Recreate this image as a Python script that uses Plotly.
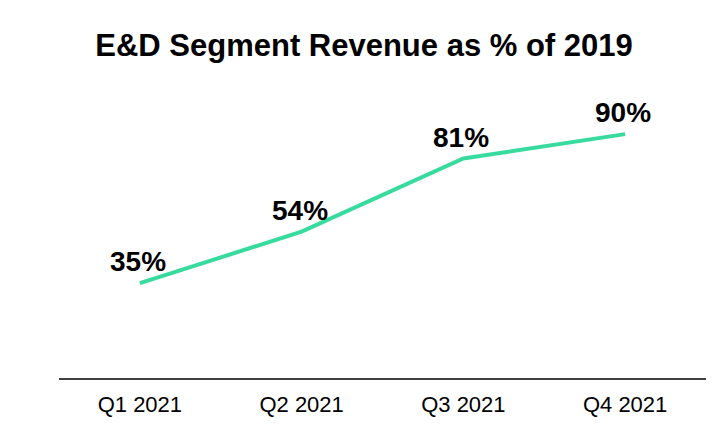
import plotly.graph_objects as go

quarters = ["Q1 2021", "Q2 2021", "Q3 2021", "Q4 2021"]
pct_of_2019 = [35, 54, 81, 90]
labels = [f"{v}%" for v in pct_of_2019]

fig = go.Figure()
fig.add_trace(go.Scatter(
    x=quarters, y=pct_of_2019, mode="lines",
    line=dict(color="#38DB9E", width=4),
    cliponaxis=False, hoverinfo="skip",
))

for q, v, t in zip(quarters, pct_of_2019, labels):
    fig.add_annotation(x=q, y=v, text=f"<b>{t}</b>", showarrow=False,
                       xanchor="center", yanchor="bottom", xshift=-2, yshift=4,
                       font=dict(family="Arial, Liberation Sans, sans-serif", size=28, color="#000000"))

fig.update_layout(
    width=728, height=436,
    margin=dict(l=59, r=22, t=100, b=58),
    paper_bgcolor="white", plot_bgcolor="white",
    showlegend=False,
    title=dict(text="<b>E&D Segment Revenue as % of 2019</b>",
               x=0.5, xanchor="center", y=1 - 45/436, yanchor="middle", yref="container",
               font=dict(family="Arial, Liberation Sans, sans-serif", size=31, color="#000000")),
    xaxis=dict(type="category", range=[-0.5, 3.5], showgrid=False, zeroline=False,
               showline=True, linecolor="#404040", linewidth=2, ticks="",
               ticklabelstandoff=6,
               tickfont=dict(family="Arial, Liberation Sans, sans-serif", size=22, color="#000000")),
    yaxis=dict(range=[0, 102.6], visible=False, showgrid=False, zeroline=False),
)

fig.write_html("out.html")
